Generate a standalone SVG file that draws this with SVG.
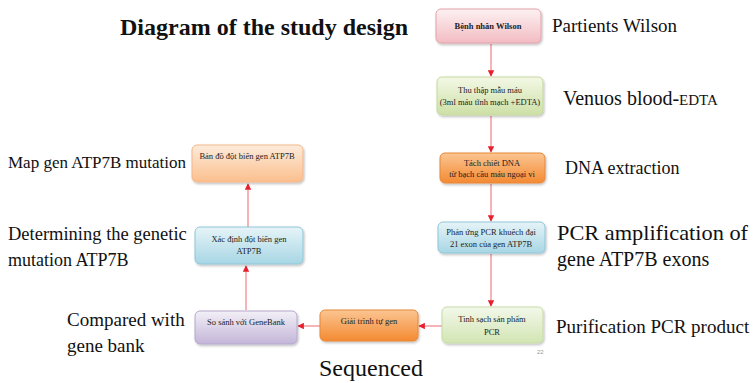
<svg xmlns="http://www.w3.org/2000/svg" width="754" height="383" viewBox="0 0 754 383">
<style>
.lbl{font-family:"Liberation Serif","Times New Roman",serif;fill:#111;}
.box{font-family:"Liberation Serif","Times New Roman",serif;font-size:8.5px;fill:#222;text-anchor:middle;}
.conn{stroke:#f28a92;stroke-width:1.3;fill:none;marker-end:url(#ah);}
</style>
<defs>
<marker id="ah" viewBox="0 0 10 10" refX="9" refY="5" markerWidth="5" markerHeight="5" orient="auto">
<path d="M0,0 L10,5 L0,10 z" fill="#e8202e"/>
</marker>
<filter id="sh" x="-10%" y="-10%" width="130%" height="140%">
<feDropShadow dx="1" dy="1.5" stdDeviation="1.2" flood-color="#000" flood-opacity="0.25"/>
</filter>
<linearGradient id="gPink" x1="0" y1="0" x2="0" y2="1"><stop offset="0" stop-color="#fdf1f2"/><stop offset="1" stop-color="#f2bcc2"/></linearGradient>
<linearGradient id="gGreen" x1="0" y1="0" x2="0" y2="1"><stop offset="0" stop-color="#f3f8e6"/><stop offset="1" stop-color="#cde0a6"/></linearGradient>
<linearGradient id="gOrange" x1="0" y1="0" x2="0" y2="1"><stop offset="0" stop-color="#fbc592"/><stop offset="1" stop-color="#f48a32"/></linearGradient>
<linearGradient id="gBlue" x1="0" y1="0" x2="0" y2="1"><stop offset="0" stop-color="#e6f4f8"/><stop offset="1" stop-color="#a7d6e4"/></linearGradient>
<linearGradient id="gGreen2" x1="0" y1="0" x2="0" y2="1"><stop offset="0" stop-color="#f3f8ea"/><stop offset="1" stop-color="#d2e5b3"/></linearGradient>
<linearGradient id="gPurple" x1="0" y1="0" x2="0" y2="1"><stop offset="0" stop-color="#f3f0f7"/><stop offset="1" stop-color="#c3b5d8"/></linearGradient>
<linearGradient id="gPeach" x1="0" y1="0" x2="0" y2="1"><stop offset="0" stop-color="#fdebdc"/><stop offset="1" stop-color="#fbbf8c"/></linearGradient>
</defs>
<rect width="754" height="383" fill="#fff"/>

<text class="lbl" x="120" y="35" font-size="24" font-weight="bold">Diagram of the study design</text>

<g id="connectors">
<line class="conn" x1="491" y1="44" x2="491" y2="76"/>
<line class="conn" x1="491" y1="116" x2="491" y2="152"/>
<line class="conn" x1="491" y1="184" x2="491" y2="221"/>
<line class="conn" x1="491" y1="254" x2="491" y2="306"/>
<line class="conn" x1="442" y1="326" x2="419" y2="326"/>
<line class="conn" x1="320" y1="326" x2="298" y2="326"/>
<line class="conn" x1="246" y1="310" x2="246" y2="266"/>
<line class="conn" x1="248" y1="227" x2="248" y2="184"/>
</g>

<g id="n1">
<rect x="436" y="9" width="105" height="34" rx="5" fill="url(#gPink)" stroke="#e3a3aa" filter="url(#sh)"/>
<text class="box" x="488" y="29" font-weight="bold" font-size="9">Bệnh nhân Wilson</text>
<text class="lbl" x="552" y="32" font-size="19">Partients Wilson</text>
</g>

<g id="n2">
<rect x="437" y="77" width="106" height="38" rx="5" fill="url(#gGreen)" stroke="#c4d89e" filter="url(#sh)"/>
<text class="box" x="490" y="93" font-size="7.5">Thu thập mẫu máu</text>
<text class="box" x="490" y="105" font-size="7.6">(3ml máu tĩnh mạch +EDTA)</text>
<text class="lbl" x="563" y="105" font-size="20">Venuos blood-<tspan font-size="15">EDTA</tspan></text>
</g>

<g id="n3">
<rect x="440" y="153" width="105" height="30" rx="5" fill="url(#gOrange)" stroke="#e6873a" filter="url(#sh)"/>
<text class="box" x="492" y="166" font-size="7.5">Tách chiết DNA</text>
<text class="box" x="492" y="177" font-size="8">từ bạch cầu máu ngoại vi</text>
<text class="lbl" x="565" y="174" font-size="18">DNA extraction</text>
</g>

<g id="n4">
<rect x="438" y="222" width="107" height="31" rx="5" fill="url(#gBlue)" stroke="#8fc6d8" filter="url(#sh)"/>
<text class="box" x="491" y="235" font-size="9.4">Phản ứng PCR khuếch đại</text>
<text class="box" x="491" y="247" font-size="9.4">21 exon của gen ATP7B</text>
<text class="lbl" x="557" y="240" font-size="21" textLength="191" lengthAdjust="spacingAndGlyphs">PCR amplification of</text>
<text class="lbl" x="557" y="266" font-size="20">gene ATP7B exons</text>
</g>

<g id="n5">
<rect x="442" y="307" width="101" height="36" rx="5" fill="url(#gGreen2)" stroke="#c6dba6" filter="url(#sh)"/>
<text class="box" x="492" y="322" font-size="10.5">Tinh sạch sản phẩm</text>
<text class="box" x="492" y="335" font-size="10.5">PCR</text>
<text class="lbl" x="556" y="333" font-size="19">Purification PCR product</text>
<text x="537" y="354" font-family="Liberation Sans, sans-serif" font-size="6" fill="#999">22</text>
</g>

<g id="n6">
<rect x="320" y="310" width="98" height="31" rx="5" fill="url(#gOrange)" stroke="#e6873a" filter="url(#sh)"/>
<text class="box" x="369" y="324">Giải trình tự gen</text>
<text class="lbl" x="371" y="376" font-size="24" text-anchor="middle">Sequenced</text>
</g>

<g id="n7">
<rect x="195" y="311" width="102" height="33" rx="5" fill="url(#gPurple)" stroke="#b6a8cc" filter="url(#sh)"/>
<text class="box" x="246" y="325">So sánh với GeneBank</text>
<text class="lbl" x="67" y="326" font-size="19">Compared with</text>
<text class="lbl" x="67" y="352" font-size="19">gene bank</text>
</g>

<g id="n8">
<rect x="195" y="227" width="108" height="37" rx="5" fill="url(#gBlue)" stroke="#8fc6d8" filter="url(#sh)"/>
<text class="box" x="249" y="242">Xác định đột biến gen</text>
<text class="box" x="249" y="254">ATP7B</text>
<text class="lbl" x="8" y="240" font-size="18.5">Determining the genetic</text>
<text class="lbl" x="8" y="266" font-size="18">mutation ATP7B</text>
</g>

<g id="n9">
<rect x="192" y="145" width="111" height="37" rx="5" fill="url(#gPeach)" stroke="#f3b68a" filter="url(#sh)"/>
<text class="box" x="247" y="159" font-size="9">Bản đồ đột biến gen ATP7B</text>
<text class="lbl" x="8" y="168" font-size="17">Map gen ATP7B mutation</text>
</g>
</svg>
